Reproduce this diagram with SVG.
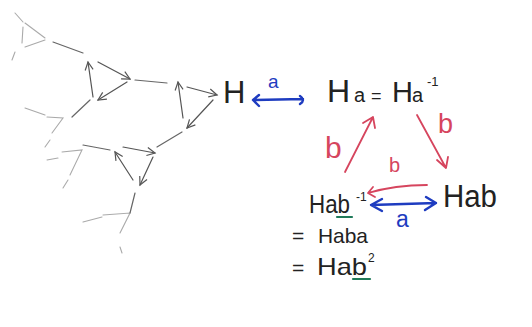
<svg xmlns="http://www.w3.org/2000/svg" width="532" height="327" viewBox="0 0 532 327">
<defs>
<marker id="ga" markerUnits="userSpaceOnUse" markerWidth="12" markerHeight="12" refX="9" refY="5" orient="auto"><path d="M1,1 L9,5 L1,9" fill="none" stroke="#555" stroke-width="1.2"/></marker>
<style>
.k{stroke:#666;stroke-width:1.2;fill:none;stroke-linecap:round}
.f{stroke:#aaa;stroke-width:1.1;fill:none;stroke-linecap:round}
.g{stroke:#555;stroke-width:1.2;fill:none;stroke-linecap:round;marker-end:url(#ga)}
.t{font-family:"Liberation Sans",Arial,sans-serif;fill:#222}
.bl{stroke:#1e3cc0;stroke-width:2.4;fill:none;stroke-linecap:round;stroke-linejoin:round}
.rd{stroke:#d6455e;stroke-width:1.8;fill:none;stroke-linecap:round;stroke-linejoin:round}
.gr{stroke:#1f7a5a;stroke-width:2.2;stroke-linecap:round}
</style>
</defs>
<rect width="532" height="327" fill="#fff"/>
<g id="sketch">
<path class="f" d="M15,13 L23,22 M23,27 L22,43 M25,23 L45,38 M25,47 L45,40 M12,60 L15,52"/>
<path class="f" d="M47,117 L63,118 L52,133 M25,108 L45,115 M45,147 L50,140"/>
<path class="f" d="M62,152 L82,150 L70,175 M47,160 L58,158 M63,188 L68,180"/>
<path class="f" d="M103,215 L130,213 L120,233 M83,222 L102,217 M120,247 L122,253"/>
<path class="k" d="M53,42 L83,53 M135,80 L167,83 M182,132 L157,147 M72,117 L90,100 M83,145 L110,150 M135,193 L130,213"/>
<path class="g" d="M98,62 L130,79"/><path class="g" d="M127,82 L98,100"/><path class="g" d="M93,97 L88,62"/>
<path class="g" d="M187,87 L217,95"/><path class="g" d="M213,100 L187,128"/><path class="g" d="M183,118 L178,82"/>
<path class="g" d="M123,147 L155,153"/><path class="g" d="M153,157 L140,185"/><path class="g" d="M133,180 L115,152"/>
</g>
<g id="node-H"><text class="t" x="223" y="103" font-size="31">H</text></g>
<g id="node-Ha"><text class="t" y="102"><tspan x="327" font-size="32">H</tspan><tspan x="354" font-size="20">a</tspan><tspan x="371" font-size="18">=</tspan><tspan x="392" font-size="29">H</tspan><tspan x="412" font-size="20">a</tspan><tspan x="427" y="86" font-size="13">-1</tspan></text></g>
<g id="node-Hab"><text class="t" x="443" y="207" font-size="31" textLength="54" lengthAdjust="spacingAndGlyphs">Hab</text></g>
<g id="node-Habinv">
<text class="t" y="213"><tspan x="309" font-size="25" textLength="41" lengthAdjust="spacingAndGlyphs">Hab</tspan><tspan x="356" y="201" font-size="12">-1</tspan></text>
<text class="t" y="243" font-size="21"><tspan x="292">=</tspan><tspan x="318" textLength="50" lengthAdjust="spacingAndGlyphs">Haba</tspan></text>
<text class="t" y="275" font-size="24"><tspan x="292" font-size="21">=</tspan><tspan x="317" textLength="50" lengthAdjust="spacingAndGlyphs">Hab</tspan><tspan x="368" y="262" font-size="12">2</tspan></text>
<line class="gr" x1="337" y1="217" x2="352" y2="217"/>
<line class="gr" x1="353" y1="279" x2="370" y2="279"/>
</g>
<g id="connectors">
<path class="bl" d="M255,100 L303,99 M259,95 L253,100 L259,106 M300,96 Q306,100 300,104"/>
<text x="268" y="88" font-size="19" fill="#1e3cc0" font-family="Liberation Sans,Arial,sans-serif">a</text>
<path class="bl" d="M371,205 L436,203 M382,199 L371,205 L382,211 M426,197 L436,203 L425,210"/>
<text x="396" y="227" font-size="23" fill="#1e3cc0" font-family="Liberation Sans,Arial,sans-serif">a</text>
<path class="rd" d="M345,172 L373,117 M363,123 L373,117 L375,128"/>
<path class="rd" d="M417,115 L446,168 M437,160 L446,168 L448,157"/>
<path class="rd" d="M427,185 Q395,185 368,193 M373,187 L368,193 L375,197"/>
<text x="325" y="158" font-size="30" fill="#d6455e" font-family="Liberation Sans,Arial,sans-serif">b</text>
<text x="389" y="172" font-size="20" fill="#d6455e" font-family="Liberation Sans,Arial,sans-serif">b</text>
<text x="438" y="133" font-size="27" fill="#d6455e" font-family="Liberation Sans,Arial,sans-serif">b</text>
</g>
</svg>
